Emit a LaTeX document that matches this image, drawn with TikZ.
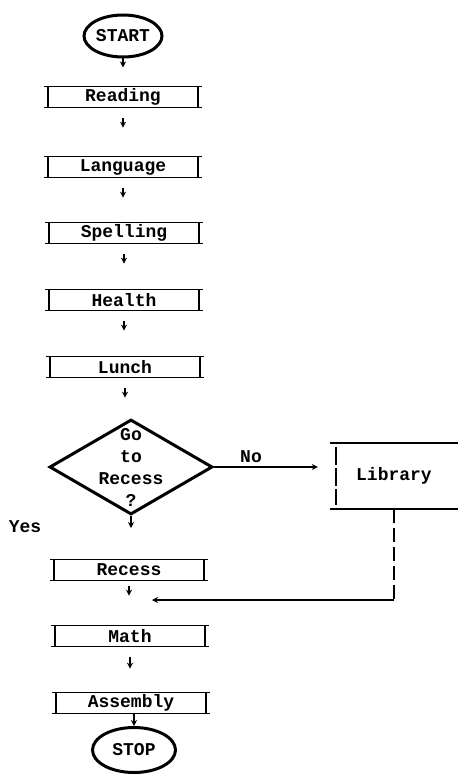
\documentclass[tikz,border=0pt]{standalone}
\usepackage{fontspec}
\setmonofont{Liberation Mono}
\usetikzlibrary{shapes.geometric,arrows.meta}
\newcommand{\typed}{\ttfamily\bfseries\fontsize{18}{22}\selectfont}
\tikzset{
  terminal/.style={ellipse, draw, line width=3pt, inner sep=0pt, font=\typed},
  task/.style={minimum width=158pt, minimum height=21pt, inner sep=0pt, font=\typed},
  decision/.style={diamond, draw, line width=3pt, inner sep=0pt, minimum width=163pt, minimum height=95pt},
  flow/.style={line width=1.5pt, -{Stealth[length=6pt,width=6pt]}},
  rule/.style={line width=1.5pt},
}
\begin{document}
\begin{tikzpicture}[x=1pt,y=-1pt]
        \useasboundingbox (0,0) rectangle (458,776);
        \node[terminal, minimum width=78pt, minimum height=42pt] (start) at (123,36) {START};
        \node[task] (read) at (123,97) {Reading};
        \node[task] (lang) at (123,167) {Language};
        \node[task] (spell) at (124,233) {Spelling};
        \node[task] (health) at (124,300) {Health};
        \node[task] (lunch) at (125,367) {Lunch};
        \node[decision] (ask) at (131,467) {};
        \node[font=\typed, align=center] (asktext) at (ask) {Go\\to\\Recess\\?};
        \node[task] (recess) at (129,570) {Recess};
        \node[task] (math) at (130,636) {Math};
        \node[task] (assembly) at (131,703) {Assembly};
        \node[terminal, minimum width=83pt, minimum height=45pt] (stop) at (134,750) {STOP};
        \node[task, minimum width=128pt, minimum height=66pt] (lib) at (394,476) {Library};
        \node[font=\typed] (no) at (251,457) {No};
        \node[font=\typed] (yes) at (25,527) {Yes};
        % top and bottom lines of the boxes, short bars at the sides
        \foreach \n in {read,lang,spell,health,lunch,recess,math,assembly}{
          \draw[rule] (\n.north west) -- (\n.north east);
          \draw[rule] (\n.south west) -- (\n.south east);
          \draw[rule] ([xshift=4pt]\n.north west) -- ([xshift=4pt]\n.south west);
          \draw[rule] ([xshift=-4pt]\n.north east) -- ([xshift=-4pt]\n.south east);
        }
        \draw[rule] (lib.north west) -- (lib.north east);
        \draw[rule] (lib.south west) -- (lib.south east);
        \draw[rule, dash pattern=on 18pt off 3pt] ([xshift=6pt,yshift=-4pt]lib.north west) -- ([xshift=6pt,yshift=4pt]lib.south west);
        % short arrows down the column
        \draw[flow] (start.south) -- ++(0,9);
        \foreach \n in {read,lang,spell,health,lunch}{
          \draw[flow] ([yshift=-10pt]\n.south) -- ++(0,10);
        }
        \draw[flow] (ask.south) -- ++(0,12);
        \draw[flow] ([yshift=-5pt]recess.south) -- ++(0,10);
        \draw[flow] ([yshift=-10pt]math.south) -- ++(0,12);
        \draw[flow] (stop.north |- assembly.south) -- (stop.north);
        % the No branch and the way back
        \draw[flow, shorten >=12pt] (ask.east) -- (ask.east -| lib.west);
        \coordinate (join) at (152,600);
        \draw[rule, dash pattern=on 14pt off 5pt] (lib.south) -- (lib.south |- join);
        \draw[flow] (lib.south |- join) -- (join);
\end{tikzpicture}
\end{document}
